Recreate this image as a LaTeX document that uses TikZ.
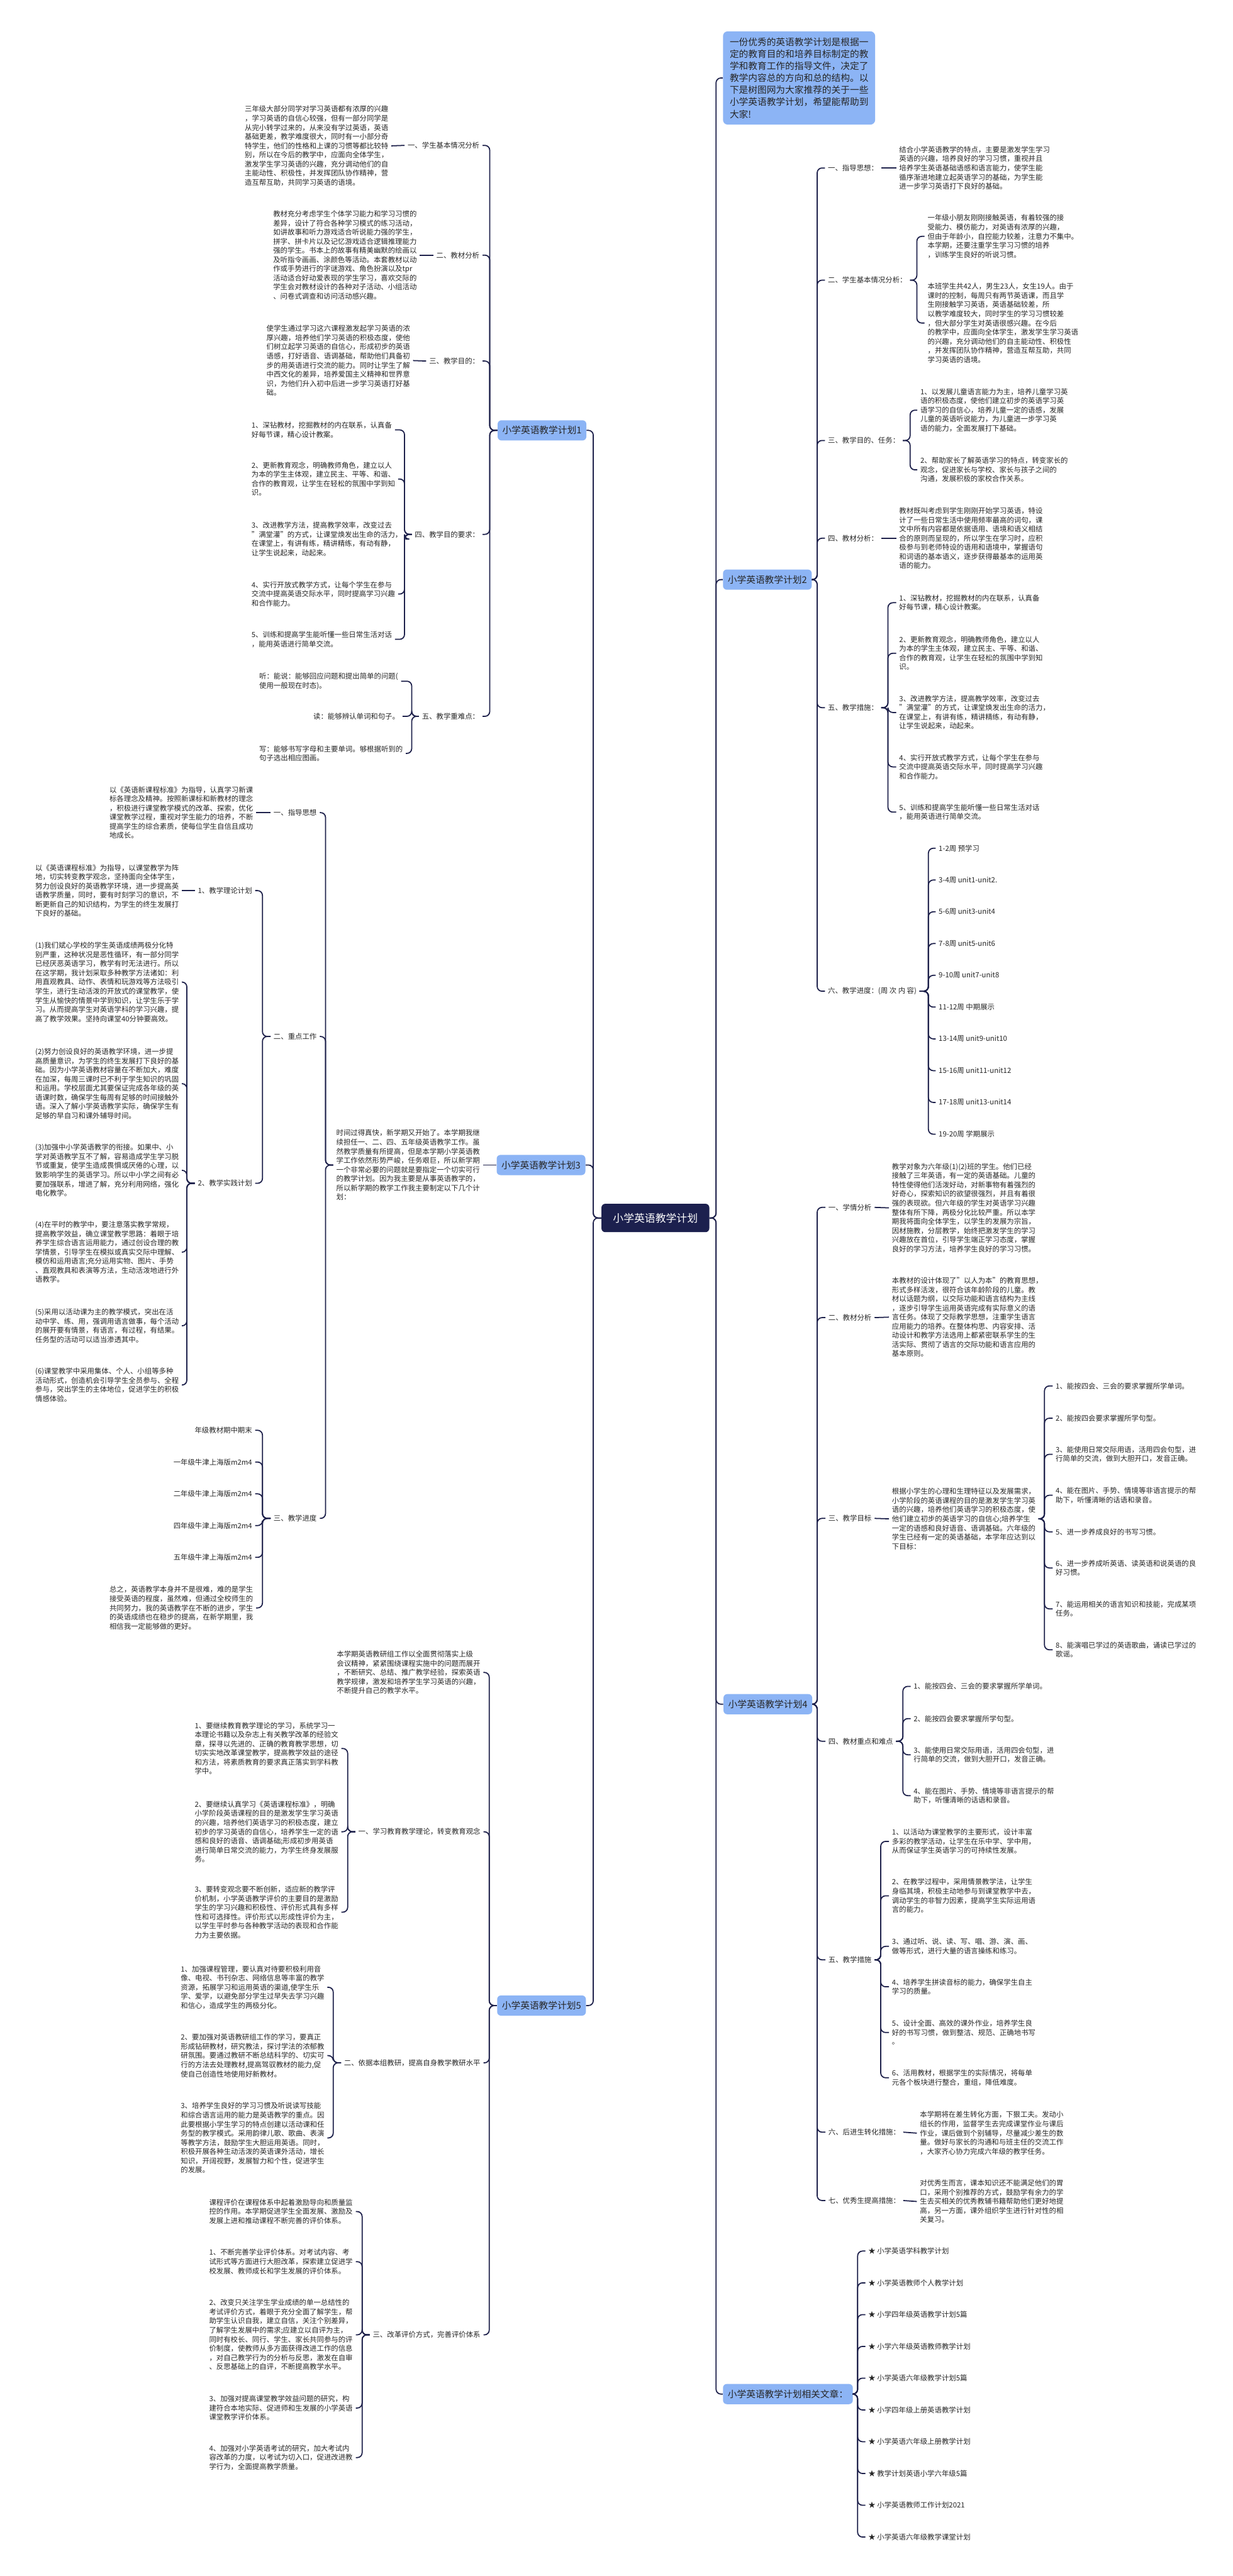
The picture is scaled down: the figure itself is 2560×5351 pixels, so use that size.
\documentclass[tikz,border=0pt]{standalone}
\usepackage{fontspec}
\setmainfont{Noto Sans CJK SC}
\usetikzlibrary{calc}
\definecolor{navy}{RGB}{30,33,75}
\definecolor{nodeblue}{RGB}{140,180,245}
\definecolor{centralfill}{RGB}{28,32,78}
\tikzset{
 conn/.style={draw=navy, line width=1.15pt, rounded corners=5pt},
 txt/.style={font=\fontsize{7.45pt}{9.5pt}\selectfont, align=left, inner sep=3pt, text=black!85},
 hd/.style={font=\fontsize{7.45pt}{9.5pt}\selectfont, inner sep=3pt, text=black!85},
 plan/.style={fill=nodeblue, rounded corners=4pt, font=\fontsize{9.6pt}{11pt}\selectfont, inner xsep=5pt, minimum height=21pt, text=black!85},
 central/.style={fill=centralfill, rounded corners=4pt, text=white, font=\fontsize{11pt}{13pt}\selectfont, inner xsep=12pt, minimum height=29.5pt},
 intro/.style={fill=nodeblue, rounded corners=5pt, font=\fontsize{9.6pt}{12.5pt}\selectfont, align=left, inner xsep=7pt, inner ysep=6.5pt, text=black!85},
}
\newcommand\cn[3]{\draw[conn] (#1) -- (#1 -| #2) |- (#3);}
\begin{document}
\begin{tikzpicture}[x=0.5pt,y=-0.5pt]
\useasboundingbox (0,0) rectangle (2560,5351);
\fill[white] (0,0) rectangle (2560,5351);

% ---------- central ----------
\node[central] (central) at (1361,2530) {小学英语教学计划};
\coordinate (vR) at (1487,0);
\coordinate (vL) at (1232,0);

% ---------- right side main nodes ----------
\node[intro, anchor=west] (intro) at (1501,162) {一份优秀的英语教学计划是根据一\\定的教育目的和培养目标制定的教\\学和教育工作的指导文件，决定了\\教学内容总的方向和总的结构。以\\下是树图网为大家推荐的关于一些\\小学英语教学计划，希望能帮助到\\大家!};
\node[plan, anchor=west] (plan2) at (1501,1204) {小学英语教学计划2};
\node[plan, anchor=west] (plan4) at (1502,3540) {小学英语教学计划4};
\node[plan, anchor=west] (rel) at (1501,4973) {小学英语教学计划相关文章：};

% ---------- left side main nodes ----------
\node[plan, anchor=west] (plan1) at (1033,894) {小学英语教学计划1};
\node[plan, anchor=west] (plan3) at (1031,2420) {小学英语教学计划3};
\node[plan, anchor=west] (plan5) at (1032,4166) {小学英语教学计划5};

\cn{central.east}{vR}{intro.west}
\cn{central.east}{vR}{plan2.west}
\cn{central.east}{vR}{plan4.west}
\cn{central.east}{vR}{rel.west}
\cn{central.west}{vL}{plan1.east}
\cn{central.west}{vL}{plan3.east}
\cn{central.west}{vL}{plan5.east}

% ================= PLAN 1 =================
\coordinate (vP1) at (1017,0);
\node[hd, anchor=east] (h11) at (1002,302) {一、学生基本情况分析};
\node[hd, anchor=east] (h12) at (1002,530) {二、教材分析};
\node[hd, anchor=east] (h13) at (1002,750) {三、教学目的：};
\node[hd, anchor=east] (h14) at (1002,1110) {四、教学目的要求：};
\node[hd, anchor=east] (h15) at (1002,1488) {五、教学重难点：};
\foreach \c in {h11,h12,h13,h14,h15}{\cn{plan1.west}{vP1}{\c.east}}

\node[txt, anchor=west] (t11) at (502,303) {三年级大部分同学对学习英语都有浓厚的兴趣\\，学习英语的自信心较强，但有一部分同学是\\从完小转学过来的，从来没有学过英语，英语\\基础更差，教学难度很大，同时有一小部分奇\\特学生，他们的性格和上课的习惯等都比较特\\别，所以在今后的教学中，应面向全体学生，\\激发学生学习英语的兴趣，充分调动他们的自\\主能动性、积极性，并发挥团队协作精神，营\\造互帮互助，共同学习英语的语境。};
\node[txt, anchor=west] (t12) at (561,530) {教材充分考虑学生个体学习能力和学习习惯的\\差异，设计了符合各种学习模式的练习活动，\\如讲故事和听力游戏适合听说能力强的学生，\\拼字、拼卡片以及记忆游戏适合逻辑推理能力\\强的学生。书本上的故事有精美幽默的绘画以\\及听指令画画、涂颜色等活动。本套教材以动\\作或手势进行的字谜游戏、角色扮演以及tpr\\活动适合好动爱表现的学生学习，喜欢交际的\\学生会对教材设计的各种对子活动、小组活动\\、问卷式调查和访问活动感兴趣。};
\node[txt, anchor=west] (t13) at (547,749) {使学生通过学习这六课程激发起学习英语的浓\\厚兴趣，培养他们学习英语的积极态度，使他\\们树立起学习英语的自信心，形成初步的英语\\语感，打好语音、语调基础，帮助他们具备初\\步的用英语进行交流的能力。同时让学生了解\\中西文化的差异，培养爱国主义精神和世界意\\识，为他们升入初中后进一步学习英语打好基\\础。};
\draw[conn] (h11.west) -- (t11.east);
\draw[conn] (h12.west) -- (t12.east);
\draw[conn] (h13.west) -- (t13.east);

\coordinate (v14) at (840,0);
\node[txt, anchor=west] (i141) at (516,893) {1、深钻教材，挖掘教材的内在联系，认真备\\好每节课，精心设计教案。};
\node[txt, anchor=west] (i142) at (516,995) {2、更新教育观念，明确教师角色，建立以人\\为本的学生主体观，建立民主、平等、和谐、\\合作的教育观，让学生在轻松的氛围中学到知\\识。};
\node[txt, anchor=west] (i143) at (516,1120) {3、改进教学方法，提高教学效率，改变过去\\"满堂灌"的方式，让课堂焕发出生命的活力，\\在课堂上，有讲有练，精讲精练，有动有静，\\让学生说起来，动起来。};
\node[txt, anchor=west] (i144) at (516,1234) {4、实行开放式教学方式，让每个学生在参与\\交流中提高英语交际水平，同时提高学习兴趣\\和合作能力。};
\node[txt, anchor=west] (i145) at (516,1328) {5、训练和提高学生能听懂一些日常生活对话\\，能用英语进行简单交流。};
\foreach \c in {i141,i142,i143,i144,i145}{\cn{h14.west}{v14}{\c.east}}

\coordinate (v15) at (855,0);
\node[txt, anchor=west] (i151) at (532,1415) {听：能说：能够回应问题和提出简单的问题(\\使用一般现在时态)。};
\node[txt, anchor=east] (i152) at (836,1488) {读：能够辨认单词和句子。};
\node[txt, anchor=west] (i153) at (532,1565) {写：能够书写字母和主要单词。够根据听到的\\句子选出相应图画。};
\foreach \c in {i151,i152,i153}{\cn{h15.west}{v15}{\c.east}}

% ================= PLAN 3 =================
\node[txt, anchor=west] (tp3) at (692,2420) {时间过得真快，新学期又开始了。本学期我继\\续担任一、二、四、五年级英语教学工作。虽\\然教学质量有所提高，但是本学期小学英语教\\学工作依然形势严峻，任务艰巨，所以新学期\\一个非常必要的问题就是要指定一个切实可行\\的教学计划。因为我主要是从事英语教学的，\\所以新学期的教学工作我主要制定以下几个计\\划：};
\draw[conn] (plan3.west) -- (tp3.east);
\coordinate (vP3) at (676,0);
\node[hd, anchor=east] (h31) at (664,1688) {一、指导思想};
\node[hd, anchor=east] (h32) at (664,2153) {二、重点工作};
\node[hd, anchor=east] (h33) at (664,3154) {三、教学进度};
\foreach \c in {h31,h32,h33}{\cn{tp3.west}{vP3}{\c.east}}

\node[txt, anchor=west] (t31) at (221,1688) {以《英语新课程标准》为指导，认真学习新课\\标各理念及精神。按照新课标和新教材的理念\\，积极进行课堂教学模式的改革、探索，优化\\课堂教学过程，重视对学生能力的培养，不断\\提高学生的综合素质，使每位学生自信且成功\\地成长。};
\draw[conn] (h31.west) -- (t31.east);

\coordinate (v32) at (545,0);
\node[hd, anchor=east] (h321) at (530,1850) {1、教学理论计划};
\node[hd, anchor=east] (h322) at (530,2458) {2、教学实践计划};
\foreach \c in {h321,h322}{\cn{h32.west}{v32}{\c.east}}
\node[txt, anchor=west] (t321) at (67,1850) {以《英语课程标准》为指导，以课堂教学为阵\\地，切实转变教学观念，坚持面向全体学生，\\努力创设良好的英语教学环境，进一步提高英\\语教学质量，同时，要有时刻学习的意识，不\\断更新自己的知识结构，为学生的终生发展打\\下良好的基础。};
\draw[conn] (h321.west) -- (t321.east);

\coordinate (v322) at (388,0);
\node[txt, anchor=west] (p1) at (67,2040) {(1)我们斌心学校的学生英语成绩两极分化特\\别严重，这种状况是恶性循环，有一部分同学\\已经厌恶英语学习，教学有时无法进行。所以\\在这学期，我计划采取多种教学方法诸如：利\\用直观教具、动作、表情和玩游戏等方法吸引\\学生，进行生动活泼的开放式的课堂教学，使\\学生从愉快的情景中学到知识，让学生乐于学\\习。从而提高学生对英语学科的学习兴趣，提\\高了教学效果。坚持向课堂40分钟要高效。};
\node[txt, anchor=west] (p2) at (67,2251) {(2)努力创设良好的英语教学环境，进一步提\\高质量意识，为学生的终生发展打下良好的基\\础。因为小学英语教材容量在不断加大，难度\\在加深，每周三课时已不利于学生知识的巩固\\和运用。学校层面尤其要保证完成各年级的英\\语课时数，确保学生每周有足够的时间接触外\\语。深入了解小学英语教学实际，确保学生有\\足够的早自习和课外辅导时间。};
\node[txt, anchor=west] (p3) at (67,2431) {(3)加强中小学英语教学的衔接。如果中、小\\学对英语教学互不了解，容易造成学生学习脱\\节或重复，使学生造成畏惧或厌倦的心理，以\\致影响学生的英语学习。所以中小学之间有必\\要加强联系，增进了解，充分利用网络，强化\\电化教学。};
\node[txt, anchor=west] (p4) at (67,2601) {(4)在平时的教学中，要注意落实教学常规，\\提高教学效益，确立课堂教学思路：着眼于培\\养学生综合语言运用能力，通过创设合理的教\\学情景，引导学生在模拟或真实交际中理解、\\模仿和运用语言;充分运用实物、图片、手势\\、直观教具和表演等方法，生动活泼地进行外\\语教学。};
\node[txt, anchor=west] (p5) at (67,2754) {(5)采用以活动课为主的教学模式，突出在活\\动中学、练、用，强调用语言做事，每个活动\\的展开要有情景，有语言，有过程，有结果。\\任务型的活动可以适当渗透其中。};
\node[txt, anchor=west] (p6) at (67,2877) {(6)课堂教学中采用集体、个人、小组等多种\\活动形式，创造机会引导学生全员参与、全程\\参与，突出学生的主体地位，促进学生的积极\\情感体验。};
\foreach \c in {p1,p2,p3,p4,p5,p6}{\cn{h322.west}{v322}{\c.east}}

\coordinate (v33) at (545,0);
\node[hd, anchor=east] (s1) at (530,2971) {年级教材期中期末};
\node[hd, anchor=east] (s2) at (530,3037) {一年级牛津上海版m2m4};
\node[hd, anchor=east] (s3) at (530,3103) {二年级牛津上海版m2m4};
\node[hd, anchor=east] (s4) at (530,3169) {四年级牛津上海版m2m4};
\node[hd, anchor=east] (s5) at (530,3235) {五年级牛津上海版m2m4};
\node[txt, anchor=west] (s6) at (221,3340) {总之，英语教学本身并不是很难，难的是学生\\接受英语的程度，虽然难，但通过全校师生的\\共同努力，我的英语教学在不断的进步，学生\\的英语成绩也在稳步的提高，在新学期里，我\\相信我一定能够做的更好。};
\foreach \c in {s1,s2,s3,s4,s5,s6}{\cn{h33.west}{v33}{\c.east}}

% ================= PLAN 5 =================
\coordinate (vP5) at (1016,0);
\node[txt, anchor=west] (tp5) at (693,3474) {本学期英语教研组工作以全面贯彻落实上级\\会议精神，紧紧围绕课程实施中的问题而展开\\，不断研究、总结、推广教学经验，探索英语\\教学规律，激发和培养学生学习英语的兴趣，\\不断提升自己的教学水平。};
\node[hd, anchor=east] (h51) at (1004,3805) {一、学习教育教学理论，转变教育观念};
\node[hd, anchor=east] (h52) at (1004,4285) {二、依据本组教研，提高自身教学教研水平};
\node[hd, anchor=east] (h53) at (1004,4850) {三、改革评价方式，完善评价体系};
\foreach \c in {tp5,h51,h52,h53}{\cn{plan5.west}{vP5}{\c.east}}

\coordinate (v51) at (722,0);
\node[txt, anchor=west] (a1) at (398,3632) {1、要继续教育教学理论的学习，系统学习一\\本理论书籍以及杂志上有关教学改革的经验文\\章，探寻以先进的、正确的教育教学思想，切\\切实实地改革课堂教学，提高教学效益的途径\\和方法，将素质教育的要求真正落实到学科教\\学中。};
\node[txt, anchor=west] (a2) at (398,3805) {2、要继续认真学习《英语课程标准》，明确\\小学阶段英语课程的目的是激发学生学习英语\\的兴趣，培养他们英语学习的积极态度，建立\\初步的学习英语的自信心，培养学生一定的语\\感和良好的语音、语调基础;形成初步用英语\\进行简单日常交流的能力，为学生终身发展服\\务。};
\node[txt, anchor=west] (a3) at (398,3972) {3、要转变观念要不断创新，适应新的教学评\\价机制，小学英语教学评价的主要目的是激励\\学生的学习兴趣和积极性、评价形式具有多样\\性和可选择性。评价形式以形成性评价为主，\\以学生平时参与各种教学活动的表现和合作能\\力为主要依据。};
\foreach \c in {a1,a2,a3}{\cn{h51.west}{v51}{\c.east}}

\coordinate (v52) at (692,0);
\node[txt, anchor=west] (b1) at (369,4128) {1、加强课程管理，要认真对待要积极利用音\\像、电视、书刊杂志、网络信息等丰富的教学\\资源，拓展学习和运用英语的渠道,使学生乐\\学、爱学，以避免部分学生过早失去学习兴趣\\和信心，造成学生的两极分化。};
\node[txt, anchor=west] (b2) at (369,4270) {2、要加强对英语教研组工作的学习，要真正\\形成钻研教材，研究教法，探讨学法的浓郁教\\研氛围。要通过教研不断总结科学的、切实可\\行的方法去处理教材,提高驾驭教材的能力,促\\使自己创造性地使用好新教材。};
\node[txt, anchor=west] (b3) at (369,4441) {3、培养学生良好的学习习惯及听说读写技能\\和综合语言运用的能力是英语教学的重点。因\\此要根据小学生学习的特点创建以活动课和任\\务型的教学模式。采用韵律儿歌、歌曲、表演\\等教学方法，鼓励学生大胆运用英语。同时，\\积极开展各种生动活泼的英语课外活动，增长\\知识，开阔视野，发展智力和个性，促进学生\\的发展。};
\foreach \c in {b1,b2,b3}{\cn{h52.west}{v52}{\c.east}}

\coordinate (v53) at (752,0);
\node[txt, anchor=west] (c0) at (428,4594) {课程评价在课程体系中起着激励导向和质量监\\控的作用。本学期促进学生全面发展、激励及\\发展上进和推动课程不断完善的评价体系。};
\node[txt, anchor=west] (c1) at (428,4698) {1、不断完善学业评价体系。对考试内容、考\\试形式等方面进行大胆改革，探索建立促进学\\校发展、教师成长和学生发展的评价体系。};
\node[txt, anchor=west] (c2) at (428,4850) {2、改变只关注学生学业成绩的单一总结性的\\考试评价方式，着眼于充分全面了解学生，帮\\助学生认识自我，建立自信，关注个别差异，\\了解学生发展中的需求;应建立以自评为主，\\同时有校长、同行、学生、家长共同参与的评\\价制度，使教师从多方面获得改进工作的信息\\，对自己教学行为的分析与反思，激发在自审\\、反思基础上的自评，不断提高教学水平。};
\node[txt, anchor=west] (c3) at (428,5002) {3、加强对提高课堂教学效益问题的研究，构\\建符合本地实际、促进师和生发展的小学英语\\课堂教学评价体系。};
\node[txt, anchor=west] (c4) at (428,5105) {4、加强对小学英语考试的研究，加大考试内\\容改革的力度，以考试为切入口，促进改进教\\学行为，全面提高教学质量。};
\foreach \c in {c0,c1,c2,c3,c4}{\cn{h53.west}{v53}{\c.east}}

% ================= PLAN 2 =================
\coordinate (vP2) at (1697,0);
\node[hd, anchor=west] (h21) at (1713,349) {一、指导思想：};
\node[hd, anchor=west] (h22) at (1713,582) {二、学生基本情况分析：};
\node[hd, anchor=west] (h23) at (1713,915) {三、教学目的、任务：};
\node[hd, anchor=west] (h24) at (1713,1118) {四、教材分析：};
\node[hd, anchor=west] (h25) at (1713,1470) {五、教学措施：};
\node[hd, anchor=west] (h26) at (1713,2059) {六、教学进度：(周 次 内 容)};
\foreach \c in {h21,h22,h23,h24,h25,h26}{\cn{plan2.east}{vP2}{\c.west}}

\node[txt, anchor=west] (t21) at (1861,349) {结合小学英语教学的特点，主要是激发学生学习\\英语的兴趣，培养良好的学习习惯，重视并且\\培养学生英语基础语感和语言能力，使学生能\\循序渐进地建立起英语学习的基础，为学生能\\进一步学习英语打下良好的基础。};
\draw[conn] (h21.east) -- (t21.west);

\coordinate (v22) at (1904,0);
\node[txt, anchor=west] (t221) at (1920,491) {一年级小朋友刚刚接触英语，有着较强的接\\受能力、模仿能力，对英语有浓厚的兴趣，\\但由于年龄小，自控能力较差，注意力不集中。\\本学期，还要注重学生学习习惯的培养\\，训练学生良好的听说习惯。};
\node[txt, anchor=west] (t222) at (1920,671) {本班学生共42人，男生23人，女生19人。由于\\课时的控制，每周只有两节英语课，而且学\\生刚接触学习英语，英语基础较差，所\\以教学难度较大，同时学生的学习习惯较差\\，但大部分学生对英语很感兴趣。在今后\\的教学中，应面向全体学生，激发学生学习英语\\的兴趣，充分调动他们的自主能动性、积极性\\，并发挥团队协作精神，营造互帮互助，共同\\学习英语的语境。};
\foreach \c in {t221,t222}{\cn{h22.east}{v22}{\c.west}}

\coordinate (v23) at (1890,0);
\node[txt, anchor=west] (t231) at (1905,852) {1、以发展儿童语言能力为主，培养儿童学习英\\语的积极态度，使他们建立初步的英语学习英\\语学习的自信心，培养儿童一定的语感，发展\\儿童的英语听说能力，为儿童进一步学习英\\语的能力，全面发展打下基础。};
\node[txt, anchor=west] (t232) at (1905,976) {2、帮助家长了解英语学习的特点，转变家长的\\观念，促进家长与学校、家长与孩子之间的\\沟通，发展积极的家校合作关系。};
\foreach \c in {t231,t232}{\cn{h23.east}{v23}{\c.west}}

\node[txt, anchor=west] (t24) at (1861,1118) {教材既叫考虑到学生刚刚开始学习英语，特设\\计了一些日常生活中使用频率最高的词句，课\\文中所有内容都是依据语用、语境和语义相结\\合的原则而呈现的，所以学生在学习时，应积\\极参与到老师特设的语用和语境中，掌握语句\\和词语的基本语义，逐步获得最基本的运用英\\语的能力。};
\draw[conn] (h24.east) -- (t24.west);

\coordinate (v25) at (1844,0);
\node[txt, anchor=west] (m1) at (1861,1252) {1、深钻教材，挖掘教材的内在联系，认真备\\好每节课，精心设计教案。};
\node[txt, anchor=west] (m2) at (1861,1357) {2、更新教育观念，明确教师角色，建立以人\\为本的学生主体观，建立民主、平等、和谐、\\合作的教育观，让学生在轻松的氛围中学到知\\识。};
\node[txt, anchor=west] (m3) at (1861,1480) {3、改进教学方法，提高教学效率，改变过去\\"满堂灌"的方式，让课堂焕发出生命的活力，\\在课堂上，有讲有练，精讲精练，有动有静，\\让学生说起来，动起来。};
\node[txt, anchor=west] (m4) at (1861,1593) {4、实行开放式教学方式，让每个学生在参与\\交流中提高英语交际水平，同时提高学习兴趣\\和合作能力。};
\node[txt, anchor=west] (m5) at (1861,1687) {5、训练和提高学生能听懂一些日常生活对话\\，能用英语进行简单交流。};
\foreach \c in {m1,m2,m3,m4,m5}{\cn{h25.east}{v25}{\c.west}}

\coordinate (v26) at (1928,0);
\foreach \n/\t [count=\k from 0] in {w1/{1-2周 预学习},w2/{3-4周 unit1-unit2.},w3/{5-6周 unit3-unit4},w4/{7-8周 unit5-unit6},w5/{9-10周 unit7-unit8},w6/{11-12周 中期展示},w7/{13-14周 unit9-unit10},w8/{15-16周 unit11-unit12},w9/{17-18周 unit13-unit14},w10/{19-20周 学期展示}}{
 \node[hd, anchor=west] (\n) at (1943,1762+66*\k) {\t};
 \cn{h26.east}{v26}{\n.west}
}

% ================= PLAN 4 =================
\coordinate (vP4) at (1697,0);
\node[hd, anchor=west] (h41) at (1714,2508) {一、学情分析};
\node[hd, anchor=west] (h42) at (1714,2737) {二、教材分析};
\node[hd, anchor=west] (h43) at (1714,3154) {三、教学目标};
\node[hd, anchor=west] (h44) at (1714,3617) {四、教材重点和难点};
\node[hd, anchor=west] (h45) at (1714,4071) {五、教学措施};
\node[hd, anchor=west] (h46) at (1714,4429) {六、后进生转化措施：};
\node[hd, anchor=west] (h47) at (1714,4571) {七、优秀生提高措施：};
\foreach \c in {h41,h42,h43,h44,h45,h46,h47}{\cn{plan4.east}{vP4}{\c.west}}

\node[txt, anchor=west] (t41) at (1846,2509) {教学对象为六年级(1)(2)班的学生。他们已经\\接触了三年英语，有一定的英语基础。儿童的\\特性使得他们活泼好动，对新事物有着强烈的\\好奇心，探索知识的欲望很强烈，并且有着很\\强的表现欲。但六年级的学生对英语学习兴趣\\整体有所下降，两极分化比较严重。所以本学\\期我将面向全体学生，以学生的发展为宗旨，\\因材施教，分层教学，始终把激发学生的学习\\兴趣放在首位，引导学生端正学习态度，掌握\\良好的学习方法，培养学生良好的学习习惯。};
\node[txt, anchor=west] (t42) at (1846,2736) {本教材的设计体现了"以人为本"的教育思想，\\形式多样活泼，很符合该年龄阶段的儿童。教\\材以话题为纲，以交际功能和语言结构为主线\\，逐步引导学生运用英语完成有实际意义的语\\言任务。体现了交际教学思想，注重学生语言\\应用能力的培养。在整体构思、内容安排、活\\动设计和教学方法选用上都紧密联系学生的生\\活实际、贯彻了语言的交际功能和语言应用的\\基本原则。};
\node[txt, anchor=west] (t43) at (1846,3155) {根据小学生的心理和生理特征以及发展需求，\\小学阶段的英语课程的目的是激发学生学习英\\语的兴趣，培养他们英语学习的积极态度，使\\他们建立初步的英语学习的自信心;培养学生\\一定的语感和良好语音、语调基础。六年级的\\学生已经有一定的英语基础，本学年应达到以\\下目标：};
\draw[conn] (h41.east) -- (t41.west);
\draw[conn] (h42.east) -- (t42.west);
\draw[conn] (h43.east) -- (t43.west);

\coordinate (v43) at (2169,0);
\node[txt, anchor=west] (g1) at (2186,2879) {1、能按四会、三会的要求掌握所学单词。};
\node[txt, anchor=west] (g2) at (2186,2946) {2、能按四会要求掌握所学句型。};
\node[txt, anchor=west] (g3) at (2186,3021) {3、能使用日常交际用语，活用四会句型，进\\行简单的交流，做到大胆开口，发音正确。};
\node[txt, anchor=west] (g4) at (2186,3106) {4、能在图片、手势、情境等非语言提示的帮\\助下，听懂清晰的话语和录音。};
\node[txt, anchor=west] (g5) at (2186,3182) {5、进一步养成良好的书写习惯。};
\node[txt, anchor=west] (g6) at (2186,3257) {6、进一步养成听英语、读英语和说英语的良\\好习惯。};
\node[txt, anchor=west] (g7) at (2186,3342) {7、能运用相关的语言知识和技能，完成某项\\任务。};
\node[txt, anchor=west] (g8) at (2186,3427) {8、能演唱已学过的英语歌曲，诵读已学过的\\歌谣。};
\foreach \c in {g1,g2,g3,g4,g5,g6,g7,g8}{\cn{t43.east}{v43}{\c.west}}

\coordinate (v44) at (1875,0);
\node[txt, anchor=west] (k1) at (1891,3503) {1、能按四会、三会的要求掌握所学单词。};
\node[txt, anchor=west] (k2) at (1891,3570) {2、能按四会要求掌握所学句型。};
\node[txt, anchor=west] (k3) at (1891,3645) {3、能使用日常交际用语，活用四会句型，进\\行简单的交流，做到大胆开口，发音正确。};
\node[txt, anchor=west] (k4) at (1891,3730) {4、能在图片、手势、情境等非语言提示的帮\\助下，听懂清晰的话语和录音。};
\foreach \c in {k1,k2,k3,k4}{\cn{h44.east}{v44}{\c.west}}

\coordinate (v45) at (1829,0);
\node[txt, anchor=west] (n1) at (1846,3825) {1、以活动为课堂教学的主要形式，设计丰富\\多彩的教学活动，让学生在乐中学、学中用，\\从而保证学生英语学习的可持续性发展。};
\node[txt, anchor=west] (n2) at (1846,3938) {2、在教学过程中，采用情景教学法，让学生\\身临其境，积极主动地参与到课堂教学中去，\\调动学生的非智力因素，提高学生实际运用语\\言的能力。};
\node[txt, anchor=west] (n3) at (1846,4043) {3、通过听、说、读、写、唱、游、演、画、\\做等形式，进行大量的语言操练和练习。};
\node[txt, anchor=west] (n4) at (1846,4127) {4、培养学生拼读音标的能力，确保学生自主\\学习的质量。};
\node[txt, anchor=west] (n5) at (1846,4222) {5、设计全面、高效的课外作业，培养学生良\\好的书写习惯，做到整洁、规范、正确地书写\\。};
\node[txt, anchor=west] (n6) at (1846,4316) {6、活用教材，根据学生的实际情况，将每单\\元各个板块进行整合，重组，降低难度。};
\foreach \c in {n1,n2,n3,n4,n5,n6}{\cn{h45.east}{v45}{\c.west}}

\node[txt, anchor=west] (t46) at (1904,4431) {本学期将在差生转化方面，下狠工夫。发动小\\组长的作用，监督学生去完成课堂作业与课后\\作业，课后做到个别辅导，尽量减少差生的数\\量。做好与家长的沟通和与班主任的交流工作\\，大家齐心协力完成六年级的教学任务。};
\node[txt, anchor=west] (t47) at (1904,4573) {对优秀生而言，课本知识还不能满足他们的胃\\口，采用个别推荐的方式，鼓励学有余力的学\\生去买相关的优秀教辅书籍帮助他们更好地提\\高，另一方面，课外组织学生进行针对性的相\\关复习。};
\draw[conn] (h46.east) -- (t46.west);
\draw[conn] (h47.east) -- (t47.west);

% ================= RELATED =================
\coordinate (vRel) at (1781,0);
\foreach \n/\t [count=\k from 0] in {r1/小学英语学科教学计划,r2/小学英语教师个人教学计划,r3/小学四年级英语教学计划5篇,r4/小学六年级英语教师教学计划,r5/小学英语六年级教学计划5篇,r6/小学四年级上册英语教学计划,r7/小学英语六年级上册教学计划,r8/教学计划英语小学六年级5篇,r9/小学英语教师工作计划2021,r10/小学英语六年级教学课堂计划}{
 \node[hd, anchor=west] (\n) at (1797,4676+66*\k) {★ \t};
 \cn{rel.east}{vRel}{\n.west}
}
\end{tikzpicture}
\end{document}
